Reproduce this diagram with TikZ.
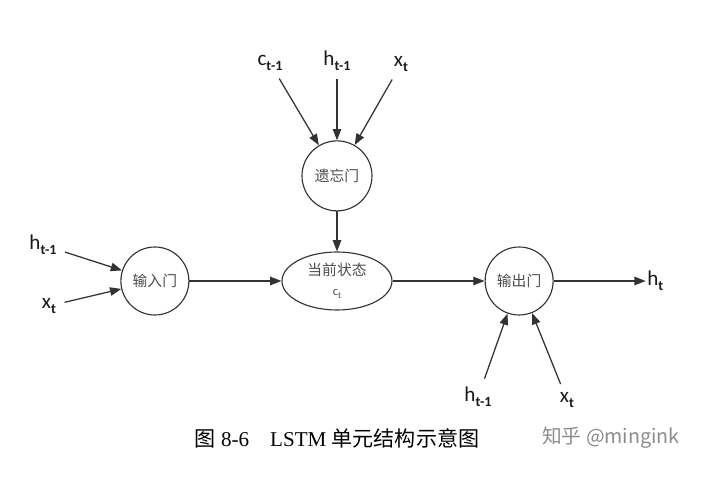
\documentclass[tikz,border=0pt]{standalone}
\usepackage{fontspec}
\setmainfont{Liberation Serif}
\newfontfamily\cjk{Noto Sans CJK SC}
\newfontfamily\lblfont{Carlito}
\usetikzlibrary{positioning,shapes.geometric,arrows.meta}

% label with a subscript
\newcommand{\sublbl}[2]{{\lblfont\fontsize{15}{17}\selectfont #1\raisebox{-0.25em}{\fontsize{10}{11}\selectfont\bfseries #2}}}

\tikzset{
  gate/.style={circle, draw=black!80, line width=0.8pt, minimum size=1.7cm, inner sep=0pt,
    font=\cjk\fontsize{10.5}{12}\selectfont, text=black!70},
  cell/.style={ellipse, draw=black!80, line width=0.8pt, minimum width=2.75cm, minimum height=1.45cm,
    inner sep=0pt, align=center, font=\cjk\fontsize{10.5}{12}\selectfont, text=black!70},
  lbl/.style={inner sep=1pt, text=black!90},
  flow/.style={-{Triangle[length=8pt,width=6pt]}, line width=0.9pt, draw=black!80},
  feed/.style={flow, shorten <=5pt},
}

\begin{document}
\begin{tikzpicture}

    \useasboundingbox (0,0) rectangle (18,11.975);

    % gate nodes
    \node[cell] (state) at (8.425,4.95) {当前状态\\[2pt]{\lblfont\fontsize{9}{10}\selectfont c\raisebox{-0.25em}{\fontsize{6.5}{7}\selectfont t}}};
    \node[gate, minimum size=1.75cm, above=1cm of state] (forget) {遗忘门};
    \node[gate, left=2.3cm of state]  (input)  {输入门};
    \node[gate, right=2.3cm of state] (output) {输出门};

    % input labels
    \node[lbl] (c_f) at (6.75,10.4) {\sublbl{c}{t-1}};
    \node[lbl, above=1.7cm of forget] (h_f) {\sublbl{h}{t-1}};
    \node[lbl] (x_f) at (10.025,10.375) {\sublbl{x}{t}};

    \node[lbl] (h_i) at (1.075,5.85)  {\sublbl{h}{t-1}};
    \node[lbl] (x_i) at (1.225,4.325) {\sublbl{x}{t}};

    \node[lbl] (h_o) at (11.95,2.05)   {\sublbl{h}{t-1}};
    \node[lbl] (x_o) at (14.175,1.975) {\sublbl{x}{t}};

    % output label
    \node[lbl, right=2.3cm of output] (h_t) {\sublbl{h}{t}};

    % the connection
    \foreach \src in {c_f, h_f, x_f} \draw[feed] (\src) -- (forget);
    \foreach \src in {h_i, x_i}      \draw[feed] (\src) -- (input);
    \foreach \src in {h_o, x_o}      \draw[feed] (\src) -- (output);
    \draw[flow] (forget) -- (state);
    \draw[flow] (input)  -- (state);
    \draw[flow] (state)  -- (output);
    \draw[flow] (output) -- (h_t);

    % caption
    \node (caption) at (8.425,1.025) {\fontsize{15}{18}\selectfont{\cjk 图} 8-6\quad LSTM {\cjk 单元结构示意图}};
    \node[text=black!45] (mark) at (15.275,1.025) {\cjk\fontsize{14}{16}\selectfont 知乎 @mingink};

\end{tikzpicture}
\end{document}
